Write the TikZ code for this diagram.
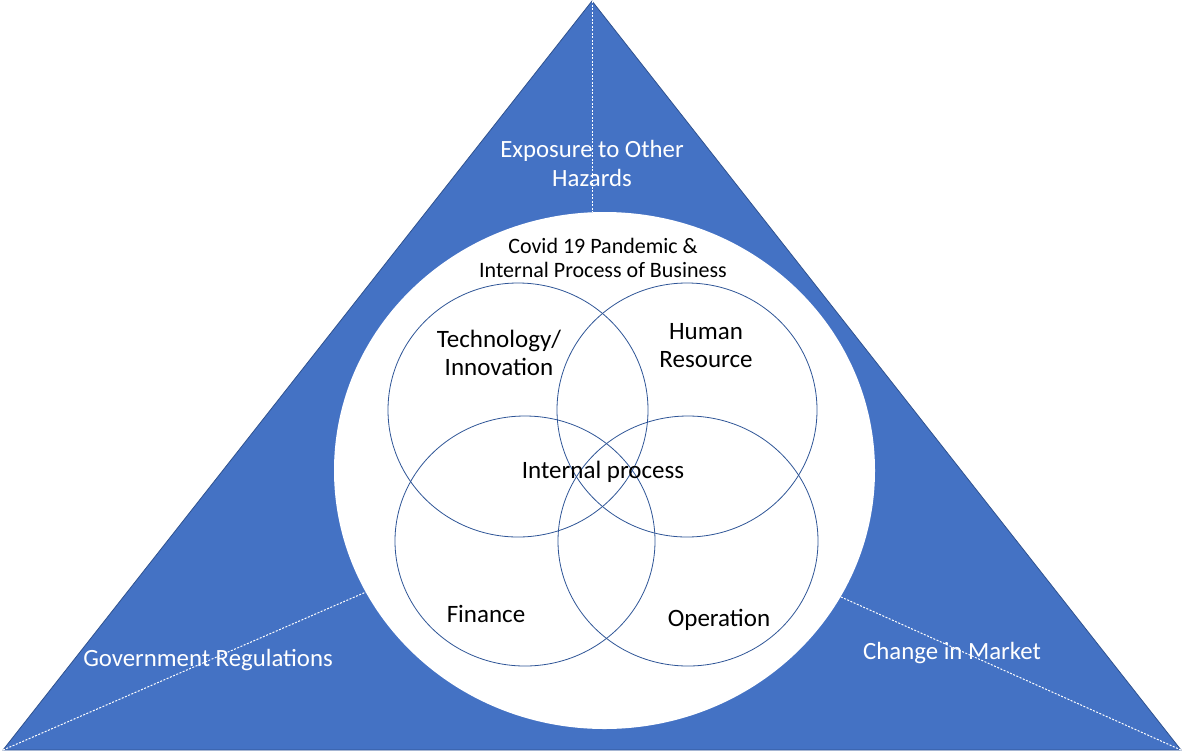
\documentclass[tikz,border=0pt]{standalone}
\usepackage{fontspec}
\setmainfont{Carlito}
\usepackage{tikz}
\usetikzlibrary{shapes.geometric}
\definecolor{tri}{HTML}{4472C4}
\definecolor{triedge}{HTML}{2F528F}
\definecolor{ring}{HTML}{2F5597}
\tikzstyle{venn}=[draw=ring,ellipse,line width=0.8pt,minimum width=260pt,minimum height=254pt,inner sep=0pt]
\tikzstyle{divider}=[white,line width=1pt,dash pattern=on 2pt off 1.5pt]
\tikzstyle{risk}=[text=white,font=\fontsize{24.8}{29}\selectfont,align=center]
\tikzstyle{part}=[text=black,font=\fontsize{25}{28}\selectfont,align=center]

\begin{document}
\begin{tikzpicture}[x=1pt,y=-1pt]
\useasboundingbox (0,0) rectangle (1183,753);
% outer triangle
\coordinate (top) at (592,1);
\coordinate (bl) at (3,750);
\coordinate (br) at (1181,750);
\filldraw[fill=tri,draw=triedge,line width=0.8pt] (top) -- (bl) -- (br) -- cycle;
% dividers
\coordinate (dt) at (592,212);
\coordinate (dl) at (366,592);
\coordinate (dr) at (841,597);
\draw[divider] (top) -- (dt);
\draw[divider] (bl) -- (dl);
\draw[divider] (br) -- (dr);
% white disc
\node[ellipse,fill=white,minimum width=541pt,minimum height=517pt,inner sep=0pt] (disc) at (604.5,470.5) {};
% four circles
\node[venn] (tech) at (518,410) {};
\node[venn] (hr) at (687,410) {};
\node[venn,minimum height=250pt] (fin) at (525,541) {};
\node[venn,minimum height=250pt] (op) at (688,541) {};
% outer labels
\node[risk] (hazard) at (592,163) {Exposure to Other\\Hazards};
\node[risk] (gov) at (208,660) {Government Regulations};
\node[risk] (market) at (952,653) {Change in Market};
% inner labels
\node[part,font=\fontsize{22}{24.5}\selectfont] (covid) at (603,258) {Covid 19 Pandemic \&\\Internal Process of Business};
\node[part] (techlbl) at (499,353) {Technology/\\Innovation};
\node[part] (hrlbl) at (706,346) {Human\\Resource};
\node[part] (core) at (603,472) {Internal process};
\node[part] (finlbl) at (486,614) {Finance};
\node[part] (oplbl) at (719,620) {Operation};
\end{tikzpicture}
\end{document}
